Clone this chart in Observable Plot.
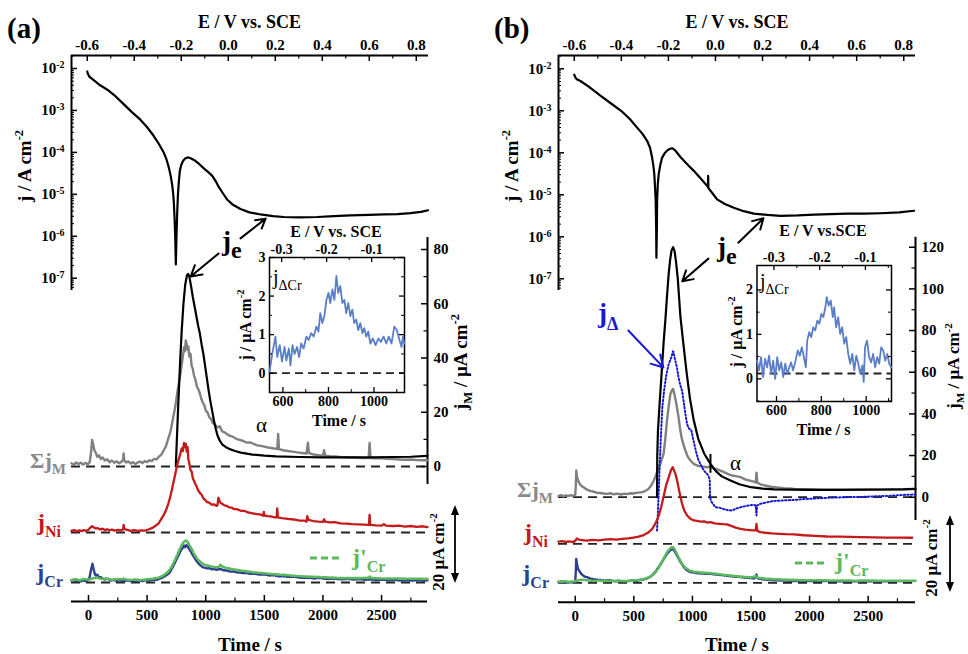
<!DOCTYPE html>
<html><head><meta charset="utf-8">
<script src="https://cdn.jsdelivr.net/npm/d3@7"></script>
<script src="https://cdn.jsdelivr.net/npm/@observablehq/plot@0.6"></script>
<style>
body{margin:0;background:#fff;}
#root{position:relative;width:968px;height:654px;overflow:hidden;background:#fff;}
#root svg{position:absolute;left:0;top:0;}
#root svg text{font-family:"Liberation Serif","Times New Roman",Times,serif !important;}
</style></head><body><div id="root"></div>
<script>
// ---------------- DATA ----------------
// polarization curves: [E (V vs SCE), log10 j (A cm-2)]
const polA = [[-0.600,-2.07],[-0.597,-2.13],[-0.590,-2.20],[-0.570,-2.29],[-0.545,-2.40],[-0.516,-2.50],[-0.480,-2.66],[-0.445,-2.85],[-0.410,-3.04],[-0.374,-3.22],[-0.345,-3.40],[-0.317,-3.61],[-0.295,-3.80],[-0.274,-4.01],[-0.262,-4.18],[-0.253,-4.36],[-0.245,-4.56],[-0.239,-4.76],[-0.235,-4.95],[-0.232,-5.15],[-0.229,-5.50],[-0.226,-5.95],[-0.224,-6.40],[-0.223,-6.67],[-0.222,-6.40],[-0.220,-5.95],[-0.217,-5.40],[-0.214,-5.00],[-0.210,-4.68],[-0.206,-4.44],[-0.200,-4.30],[-0.192,-4.20],[-0.182,-4.14],[-0.172,-4.12],[-0.160,-4.14],[-0.146,-4.18],[-0.125,-4.27],[-0.104,-4.38],[-0.085,-4.47],[-0.068,-4.56],[-0.053,-4.69],[-0.040,-4.83],[-0.022,-4.98],[-0.004,-5.13],[0.020,-5.25],[0.052,-5.35],[0.090,-5.43],[0.137,-5.48],[0.190,-5.52],[0.236,-5.54],[0.300,-5.55],[0.378,-5.54],[0.450,-5.52],[0.520,-5.50],[0.600,-5.49],[0.662,-5.48],[0.720,-5.47],[0.775,-5.45],[0.820,-5.42],[0.850,-5.38]];
const polB = [[-0.600,-2.14],[-0.596,-2.20],[-0.589,-2.25],[-0.574,-2.29],[-0.540,-2.42],[-0.489,-2.64],[-0.445,-2.82],[-0.401,-3.00],[-0.365,-3.19],[-0.333,-3.40],[-0.310,-3.55],[-0.290,-3.72],[-0.278,-3.88],[-0.269,-4.12],[-0.264,-4.30],[-0.260,-4.50],[-0.257,-4.80],[-0.254,-5.14],[-0.252,-5.80],[-0.251,-6.50],[-0.249,-5.80],[-0.248,-5.14],[-0.245,-4.75],[-0.241,-4.50],[-0.234,-4.28],[-0.227,-4.12],[-0.216,-4.01],[-0.206,-3.95],[-0.195,-3.91],[-0.184,-3.89],[-0.170,-3.95],[-0.149,-4.10],[-0.120,-4.27],[-0.092,-4.43],[-0.060,-4.63],[-0.034,-4.80],[-0.032,-4.81],[-0.031,-4.55],[-0.030,-4.84],[-0.012,-4.97],[0.007,-5.11],[0.040,-5.22],[0.078,-5.31],[0.120,-5.39],[0.163,-5.45],[0.220,-5.48],[0.277,-5.50],[0.350,-5.49],[0.420,-5.47],[0.489,-5.46],[0.560,-5.45],[0.630,-5.45],[0.702,-5.44],[0.780,-5.42],[0.844,-5.38]];

// time traces: [t (s), j (µA cm-2)]
const sumA = [[-145,1.2],[-125,0.6],[-105,1.5],[-85,0.9],[-65,1.4],[-45,0.7],[-25,1.3],[-5,0.8],[10,1.6],[20,4.5],[31,9.8],[40,8.2],[50,6.0],[60,5.2],[75,3.6],[90,4.1],[105,2.8],[120,3.3],[140,2.2],[160,2.7],[180,1.6],[200,2.2],[220,1.4],[240,1.9],[260,1.2],[280,1.7],[295,2.4],[300,4.8],[305,2.2],[320,1.5],[340,1.9],[360,1.1],[380,1.6],[400,0.9],[420,1.5],[440,1.8],[460,1.3],[480,2.0],[500,1.6],[520,2.3],[540,2.0],[560,2.8],[580,2.6],[600,3.6],[620,4.3],[640,5.8],[660,7.4],[680,10.2],[700,13.0],[720,17.5],[740,22.0],[760,28.0],[780,33.0],[795,37.5],[805,40.5],[815,44.0],[822,42.5],[830,46.5],[838,45.0],[845,43.0],[852,44.2],[860,40.5],[870,41.6],[880,37.0],[890,36.0],[900,33.5],[912,32.0],[925,29.5],[937,28.5],[950,27.0],[962,25.0],[975,23.6],[990,22.4],[1000,20.6],[1015,20.0],[1030,18.2],[1045,17.6],[1060,16.0],[1080,15.4],[1100,14.4],[1120,14.8],[1140,13.0],[1160,12.6],[1180,12.0],[1200,11.4],[1230,11.0],[1260,10.2],[1290,9.8],[1320,9.4],[1350,8.8],[1380,8.9],[1410,8.3],[1440,7.8],[1470,7.6],[1500,7.3],[1530,7.0],[1560,6.8],[1590,6.6],[1610,6.4],[1618,12.0],[1625,6.4],[1660,6.0],[1700,5.7],[1740,5.5],[1780,5.2],[1820,5.0],[1860,4.8],[1872,8.8],[1880,5.0],[1920,4.4],[1960,4.2],[2000,4.0],[2010,6.0],[2020,4.0],[2060,3.8],[2100,3.7],[2150,3.5],[2200,3.4],[2250,3.3],[2300,3.2],[2350,3.1],[2390,3.1],[2398,8.7],[2406,3.1],[2450,3.0],[2500,3.0],[2550,2.8],[2600,2.7],[2650,2.6],[2700,2.5],[2750,2.6],[2800,2.4],[2850,2.3],[2892,2.3]];
const jeA = [[745,0],[752,8],[765,22],[780,37],[795,50],[810,60],[825,67],[840,70.5],[850,71],[860,70],[875,66.5],[890,62.5],[905,59],[920,55.5],[935,52],[950,49],[965,45],[980,41.5],[995,37],[1010,32.5],[1025,28],[1040,24],[1055,20.5],[1070,17],[1085,14],[1100,11.5],[1120,9.5],[1140,8.2],[1170,7.2],[1200,6.5],[1250,5.7],[1300,5.1],[1400,4.4],[1500,4.0],[1600,3.7],[1800,3.5],[2000,3.4],[2200,3.4],[2400,3.4],[2600,3.5],[2750,3.6],[2892,3.9]];
const niA = [[-145,0.6],[-120,0.9],[-100,0.4],[-80,0.8],[-60,0.5],[-40,0.9],[-20,0.6],[0,1.0],[15,1.8],[31,2.3],[45,1.9],[60,1.5],[80,1.6],[100,1.1],[120,1.4],[140,0.9],[160,1.2],[180,0.8],[200,1.1],[220,0.7],[250,1.0],[280,0.8],[295,1.2],[300,2.8],[306,1.2],[330,1.0],[360,0.6],[390,0.9],[420,0.6],[450,0.8],[480,0.7],[510,1.1],[540,1.6],[570,2.4],[600,3.5],[620,4.9],[640,6.3],[660,8.1],[680,10.5],[700,13.5],[720,17.5],[740,21.5],[760,25.5],[780,28.5],[795,31.0],[805,30.0],[815,33.0],[822,31.5],[830,32.7],[838,29.8],[845,31.5],[852,27.0],[860,25.5],[870,23.0],[880,22.5],[890,20.0],[899,19.2],[910,18.0],[920,17.2],[935,15.6],[950,14.6],[965,13.9],[980,12.6],[995,12.0],[1012,11.2],[1030,11.0],[1050,10.3],[1070,10.4],[1090,9.8],[1100,10.0],[1108,12.8],[1115,12.0],[1125,11.0],[1140,10.6],[1160,10.0],[1180,9.8],[1200,9.3],[1220,9.2],[1240,8.7],[1270,8.5],[1300,8.0],[1330,8.0],[1360,7.4],[1382,7.2],[1410,7.0],[1440,6.8],[1470,6.6],[1490,6.2],[1496,7.6],[1502,6.2],[1530,6.0],[1560,5.9],[1590,5.6],[1605,5.6],[1610,8.9],[1616,5.6],[1650,5.3],[1700,5.0],[1750,4.8],[1800,4.4],[1840,4.4],[1860,4.0],[1866,6.0],[1875,4.7],[1920,4.2],[1960,4.0],[2000,3.9],[2010,4.9],[2020,4.0],[2060,3.7],[2100,3.8],[2150,3.4],[2200,3.3],[2250,3.1],[2300,3.0],[2350,2.9],[2392,2.8],[2398,6.5],[2404,2.8],[2450,2.6],[2500,2.5],[2520,3.1],[2540,2.5],[2600,2.4],[2650,2.5],[2700,2.2],[2750,2.4],[2800,2.1],[2850,2.3],[2892,2.0]];
const crA = [[-145,0.7],[-125,1.0],[-105,0.5],[-85,0.9],[-65,0.4],[-45,0.8],[-25,0.5],[-5,0.9],[10,2.0],[22,4.8],[34,6.9],[44,4.8],[55,3.0],[62,2.6],[75,2.9],[90,1.8],[105,2.0],[119,1.4],[140,1.1],[165,1.4],[190,0.7],[215,1.0],[240,0.5],[265,0.9],[290,0.6],[300,1.4],[310,0.6],[340,0.8],[370,0.4],[403,0.6],[430,0.9],[460,0.5],[490,0.9],[520,0.7],[550,1.1],[575,0.9],[602,1.3],[630,1.8],[655,2.4],[675,3.0],[688,3.4],[705,4.6],[720,5.8],[740,7.6],[760,9.3],[774,10.6],[790,12.0],[805,12.8],[815,13.6],[825,13.0],[835,13.8],[845,13.4],[855,12.6],[870,11.6],[885,10.4],[902,9.3],[920,8.0],[940,6.9],[955,6.3],[973,5.7],[990,5.5],[1010,5.2],[1030,5.3],[1050,4.9],[1070,5.0],[1090,4.7],[1110,4.9],[1129,5.0],[1150,4.5],[1180,4.4],[1210,4.0],[1240,4.1],[1257,3.8],[1290,3.7],[1320,3.5],[1350,3.6],[1380,3.2],[1420,3.2],[1460,2.9],[1500,3.0],[1541,2.6],[1580,2.7],[1620,2.3],[1660,2.4],[1700,2.1],[1750,2.2],[1800,1.8],[1825,1.7],[1870,1.8],[1920,1.5],[1970,1.7],[2020,1.4],[2070,1.5],[2110,1.4],[2160,1.2],[2210,1.4],[2260,1.1],[2310,1.3],[2360,1.0],[2410,1.2],[2460,0.9],[2510,1.1],[2560,0.8],[2610,1.0],[2660,0.7],[2710,0.9],[2760,0.7],[2810,0.9],[2860,0.6],[2892,0.8]];
const crpA = [[-145,0.9],[-110,1.2],[-75,0.8],[-40,1.3],[0,1.0],[34,1.5],[70,1.8],[110,1.3],[150,1.5],[200,1.0],[250,1.2],[300,1.3],[350,0.9],[400,1.1],[450,0.9],[500,1.2],[550,1.4],[600,1.8],[640,2.6],[680,4.0],[710,5.8],[740,8.5],[770,11.5],[795,13.8],[815,15.0],[830,15.5],[845,15.0],[860,13.9],[880,12.3],[900,10.6],[920,9.2],[945,7.9],[973,6.9],[1000,6.4],[1040,6.0],[1080,5.6],[1110,5.7],[1125,6.5],[1140,5.9],[1180,5.3],[1220,5.0],[1260,4.7],[1300,4.4],[1350,4.1],[1400,3.8],[1450,3.6],[1500,3.4],[1541,3.2],[1600,3.0],[1660,2.8],[1720,2.6],[1780,2.4],[1840,2.2],[1900,2.1],[1960,2.0],[2020,1.9],[2110,1.7],[2200,1.6],[2300,1.6],[2390,1.7],[2400,2.2],[2410,1.7],[2500,1.5],[2600,1.5],[2700,1.4],[2800,1.4],[2892,1.3]];
const dCrA = [[541,0.03],[553,0.5],[567,0.95],[575,0.42],[586,0.73],[596,0.3],[607,0.68],[615,0.33],[626,0.64],[633,0.2],[642,0.73],[651,0.5],[662,0.68],[671,0.42],[680,0.77],[691,0.64],[703,0.95],[713,0.86],[724,1.04],[735,0.95],[747,1.21],[756,1.08],[764,1.56],[773,1.3],[782,1.48],[791,1.9],[800,2.08],[808,1.82],[817,2.17],[826,1.9],[835,2.52],[843,2.08],[852,2.26],[861,1.82],[870,1.9],[878,1.56],[887,1.82],[896,1.48],[905,1.65],[913,1.3],[922,1.39],[931,1.12],[940,1.3],[949,1.04],[957,1.17],[966,0.95],[975,1.08],[984,0.77],[995,0.9],[1007,0.73],[1019,0.9],[1030,0.81],[1042,0.95],[1054,0.77],[1065,0.95],[1077,0.77],[1089,1.21],[1100,1.12],[1112,0.86],[1121,0.68],[1127,0.95],[1133,0.77]];

const sumB = [[-143,0.6],[-120,1.0],[-100,0.4],[-80,0.9],[-60,0.5],[-40,1.0],[-20,0.6],[0,1.2],[5,6.0],[9,12.8],[14,10.0],[22,8.4],[32,7.0],[45,5.8],[58,5.2],[71,4.8],[90,4.0],[110,3.4],[135,2.9],[160,2.6],[190,2.1],[214,2.0],[240,1.8],[270,1.6],[300,1.9],[330,1.4],[360,1.7],[390,1.3],[420,1.7],[442,1.5],[470,1.9],[500,1.8],[530,2.2],[560,2.3],[584,2.6],[605,3.2],[625,4.0],[640,5.0],[655,6.4],[670,8.0],[685,10.0],[698,12.0],[715,14.5],[735,17.5],[755,21.0],[770,29.0],[783,36.8],[798,44.0],[812,49.6],[822,51.0],[835,52.0],[848,49.0],[863,44.8],[880,39.0],[897,32.0],[910,28.0],[925,25.0],[940,22.4],[960,19.5],[985,17.5],[1011,16.0],[1040,15.2],[1070,14.8],[1100,14.6],[1125,14.4],[1150,14.6],[1180,13.8],[1210,13.4],[1239,12.8],[1270,12.0],[1300,11.2],[1340,10.4],[1380,10.0],[1410,9.6],[1450,8.6],[1490,8.0],[1530,7.4],[1540,7.0],[1547,11.8],[1554,7.0],[1580,6.2],[1620,5.6],[1670,5.0],[1720,4.7],[1780,4.3],[1830,4.2],[1868,4.0],[1920,3.9],[1980,3.8],[2050,3.7],[2120,3.6],[2200,3.6],[2280,3.5],[2360,3.5],[2438,3.5],[2520,3.6],[2600,3.6],[2700,3.8],[2800,3.9],[2904,4.0]];
const jeB = [[698,0],[700,20],[706,32],[720,45],[740,62],[755,75],[769,85],[785,98],[797,107],[810,114],[822,118.5],[835,120],[848,118],[860,113],[875,105],[897,87],[920,75],[950,60],[980,47],[1011,37],[1050,28],[1100,21],[1154,16],[1200,12.5],[1250,10],[1325,8],[1400,6.2],[1500,4.8],[1600,4.1],[1700,3.8],[1850,3.6],[2000,3.5],[2200,3.5],[2400,3.6],[2600,3.7],[2800,3.8],[2904,4.0]];
const deltaB = [[698,-16],[705,-8],[712,2],[720,14],[730,28],[743,43],[760,52],[778,59],[798,64],[812,66],[825,68],[833,70],[840,69.6],[848,67],[858,64.5],[869,62],[880,58],[895,54],[912,51],[925,46],[940,40],[955,35],[970,33],[991,32],[1010,27],[1030,22],[1050,18],[1068,16],[1090,13.5],[1110,12],[1125,11.2],[1140,10],[1148,8],[1150,0],[1160,-2],[1180,-3.6],[1197,-4.8],[1230,-5],[1260,-5.6],[1300,-6.2],[1339,-6.4],[1370,-5.5],[1400,-5.0],[1440,-4.4],[1481,-4.0],[1520,-3.6],[1540,-4.0],[1547,-8.8],[1552,-4.0],[1580,-3.2],[1638,-2.4],[1700,-1.8],[1760,-1.6],[1868,-1.3],[1950,-0.9],[2050,-0.6],[2153,-0.3],[2250,-0.1],[2350,0.1],[2438,0.1],[2550,0.4],[2650,0.6],[2723,0.8],[2800,1.1],[2904,1.3]];
const niB = [[-143,1.0],[-110,1.3],[-80,0.9],[-50,1.2],[-20,0.8],[0,1.4],[14,2.6],[30,2.0],[60,1.8],[100,1.5],[150,1.9],[200,1.6],[250,2.0],[299,2.2],[350,2.0],[400,2.4],[450,2.6],[498,3.0],[540,3.4],[584,4.2],[620,5.3],[655,7.0],[685,9.8],[712,13.4],[735,18.0],[755,23.0],[775,28.0],[798,32.0],[815,35.0],[832,36.8],[845,35.0],[858,33.0],[869,30.4],[885,26.0],[900,22.0],[912,19.2],[930,16.0],[955,13.6],[980,12.2],[1011,11.2],[1040,11.0],[1070,10.6],[1100,10.8],[1130,10.2],[1154,10.4],[1190,9.8],[1230,9.6],[1260,9.4],[1296,9.3],[1330,8.6],[1370,7.8],[1410,7.2],[1450,6.8],[1490,6.6],[1524,6.4],[1540,6.4],[1547,9.6],[1554,6.2],[1581,5.6],[1620,5.3],[1680,5.0],[1740,4.8],[1800,4.6],[1866,4.5],[1950,4.1],[2050,3.8],[2150,3.5],[2250,3.4],[2350,3.3],[2435,3.2],[2550,3.1],[2650,3.0],[2750,3.0],[2876,2.9]];
const crB = [[-143,0.3],[-120,0.6],[-100,0.2],[-80,0.5],[-60,0.1],[-40,0.4],[-20,0.2],[0,0.5],[5,6.0],[8.5,11.5],[14,9.0],[25,6.5],[43,5.0],[60,3.8],[80,3.0],[100,2.7],[130,2.0],[160,1.7],[190,1.5],[214,1.4],[250,1.0],[290,1.2],[330,0.8],[370,1.0],[410,0.7],[442,0.8],[480,1.1],[520,1.0],[550,1.3],[584,1.6],[620,2.3],[650,3.3],[669,4.3],[690,5.8],[715,7.8],[740,9.9],[760,11.8],[783,13.9],[800,15.0],[815,15.8],[832,16.3],[848,15.2],[869,13.0],[890,10.8],[910,9.0],[926,7.5],[950,6.2],[983,5.1],[1010,4.9],[1050,4.6],[1090,4.5],[1120,4.3],[1154,4.3],[1200,4.0],[1250,3.7],[1300,3.4],[1350,3.0],[1410,2.7],[1460,2.4],[1530,2.2],[1547,4.0],[1556,2.2],[1600,1.7],[1638,1.4],[1700,1.2],[1780,1.1],[1850,0.9],[1950,0.9],[2050,0.8],[2150,0.8],[2250,0.7],[2350,0.8],[2450,0.7],[2550,0.8],[2650,0.7],[2750,0.8],[2876,0.8]];
const crpB = [[-143,0.5],[-100,0.7],[-50,0.4],[0,0.8],[30,1.2],[60,1.5],[100,1.2],[150,0.9],[200,1.1],[250,0.8],[300,1.0],[350,0.7],[400,0.9],[450,0.8],[500,1.1],[550,1.4],[600,2.0],[640,2.9],[670,4.2],[700,6.2],[730,9.0],[760,12.2],[785,14.8],[805,16.2],[820,16.9],[832,17.1],[845,16.4],[860,14.8],[880,12.5],[900,10.2],[920,8.4],[945,7.0],[975,5.9],[1010,5.3],[1060,5.0],[1110,4.8],[1154,4.6],[1200,4.3],[1260,3.9],[1320,3.5],[1380,3.1],[1440,2.8],[1500,2.6],[1547,3.2],[1560,2.4],[1620,2.0],[1700,1.7],[1800,1.5],[1900,1.3],[2000,1.2],[2100,1.2],[2200,1.1],[2300,1.1],[2400,1.0],[2500,1.1],[2600,1.0],[2700,1.0],[2800,1.0],[2904,1.0]];
const dCrB = [[513,0.41],[522,0.19],[531,0.49],[540,0.04],[549,0.45],[558,0.26],[567,0.52],[576,0.11],[585,0.41],[594,0.0],[603,0.49],[612,0.19],[621,0.37],[630,0.04],[639,0.34],[648,0.11],[657,0.26],[665,0.37],[674,0.19],[685,0.41],[695,0.64],[704,0.52],[713,0.71],[722,0.49],[731,0.26],[737,0.86],[746,1.05],[755,0.94],[764,1.16],[773,1.09],[782,1.31],[791,1.24],[800,1.46],[809,1.39],[818,1.61],[824,1.84],[833,1.65],[842,1.76],[851,1.39],[857,1.61],[866,1.16],[875,1.39],[884,1.01],[893,1.16],[902,0.79],[911,0.94],[920,0.56],[929,0.34],[938,0.56],[947,0.19],[956,0.52],[965,0.34],[974,0.11],[983,0.30],[989,-0.07],[995,0.71],[1004,0.86],[1013,0.49],[1022,0.37],[1031,0.56],[1040,0.26],[1049,0.49],[1058,0.34],[1067,0.71],[1076,0.64],[1085,0.41],[1094,0.56],[1103,0.34],[1112,0.26]];

// tick values
const eTicks = [-0.6,-0.4,-0.2,0,0.2,0.4,0.6,0.8];
const eMinor = [-0.5,-0.3,-0.1,0.1,0.3,0.5,0.7];
const logTicks = [1e-2,1e-3,1e-4,1e-5,1e-6,1e-7];
const logMinor = [-8,-7,-6,-5,-4,-3,-2].flatMap(n => [2,3,4,5,6,7,8,9].map(m => m*10**n));
const tTicks = [0,500,1000,1500,2000,2500];
const tMinor = [250,750,1250,1750,2250,2750];
const rTicksA = [0,20,40,60,80], rMinorA = [10,30,50,70];
const rTicksB = [0,20,40,60,80,100,120], rMinorB = [10,30,50,70,90,110];
const insTTicks = [600,800,1000], insTMinor = [700,900,1100];
const insETicks = [-0.3,-0.2,-0.1], insEMinor = [-0.25,-0.15,-0.05];
const insYTicksA = [0,1,2,3], insYMinorA = [0.5,1.5,2.5];
const insYTicksB = [0,1,2], insYMinorB = [-0.5,0.5,1.5];

// annotations in data coordinates
const arrowsEA = [{x1:0.052,y1:-6.05,x2:0.159,y2:-5.58},{x1:-0.041,y1:-6.41,x2:-0.160,y2:-6.96}];
const arrowsEB = [{x1:0.097,y1:-6.14,x2:0.204,y2:-5.56},{x1:-0.030,y1:-6.52,x2:-0.141,y2:-7.06}];
const deltaArrowB = [{x1:453,y1:80,x2:752,y2:62.3}];
const alphaA = [{t:1476,v:15.1}], alphaB = [{t:1367,v:16.2}];
const markB = [{t:1154,lo:11.5,hi:20.5}];

// ---------------- RENDER ----------------
const root = document.getElementById("root");
const W = 968, H = 654;
const FONT = '"Liberation Serif","Times New Roman",Times,serif';
const C = {gray:"#808080", red:"#c41a1a", navy:"#2c3f90", green:"#5cb85c", inset:"#5b7ec8", delta:"#1717d4", dash:"#222"};
const DASH = {stroke: C.dash, strokeWidth: 1.8, strokeDasharray: "9,6"};

function layer(box, xOpt, yOpt, marks) {
  const [l, r, t, b] = box;
  const svg = Plot.plot({
    width: W, height: H,
    marginLeft: l, marginRight: W - r, marginTop: t, marginBottom: H - b,
    x: {...xOpt, axis: null}, y: {...yOpt, axis: null},
    style: {background: "transparent", fontFamily: FONT, fontWeight: "bold", overflow: "visible"},
    marks
  });
  svg.style.position = "absolute"; svg.style.left = "0px"; svg.style.top = "0px";
  root.appendChild(svg);
  return svg;
}
const P = d => d[0], V = d => d[1];

function supTicks(svg) {
  const ns = "http://www.w3.org/2000/svg";
  svg.querySelectorAll('g[aria-label="y-axis tick label"] text').forEach(t => {
    const [base, exp] = t.textContent.split("^");
    if (exp === undefined) return;
    t.textContent = "";
    const a = document.createElementNS(ns, "tspan"); a.textContent = base; t.appendChild(a);
    const b = document.createElementNS(ns, "tspan"); b.textContent = exp;
    b.setAttribute("dy", "-0.5em"); b.setAttribute("font-size", "10"); t.appendChild(b);
  });
}

function panel(c) {
  // polarization layer
  {
    const [l, r, t, b] = c.eBox, fw = r - l, fh = b - t;
    const svg = layer(c.eBox, {domain: c.eDomain}, {type: "log", domain: c.logDomain.map(v => 10 ** v)}, [
      Plot.ruleY([10 ** c.logDomain[1]], {strokeWidth: 2}),
      Plot.ruleX([c.eDomain[0]], {strokeWidth: 2}),
      Plot.tickX(eTicks, {x: d => d, insetBottom: fh - 6, strokeWidth: 1.5}),
      Plot.tickX(eMinor, {x: d => d, insetBottom: fh - 3.5, strokeWidth: 1.2}),
      Plot.tickY(logTicks, {y: d => d, insetRight: fw - 6, strokeWidth: 1.5}),
      Plot.tickY(logMinor.filter(v => v > 10 ** c.logDomain[0] && v < 10 ** c.logDomain[1]), {y: d => d, insetRight: fw - 3, strokeWidth: 1}),
      Plot.axisX({anchor: "top", ticks: eTicks, tickSize: 0, tickPadding: 6, tickFormat: d => d.toFixed(1), fontSize: 15, label: null}),
      Plot.axisY({anchor: "left", ticks: logTicks, tickSize: 0, tickPadding: 7, tickFormat: d => "10^" + Math.round(Math.log10(d)), fontSize: 15, label: null}),
      Plot.line(c.pol, {x: P, y: d => 10 ** d[1], strokeWidth: 2.2}),
      Plot.arrow(c.arrowsE, {x1: "x1", y1: d => 10 ** d.y1, x2: "x2", y2: d => 10 ** d.y2, strokeWidth: 2, headLength: 10})
    ]);
    supTicks(svg);
  }
  const [l, r, t, b] = c.tBox, fw = r - l;
  const yd = base => [-(b - base) / c.k, (base - t) / c.k];
  const sumDom = yd(c.base.sum);
  const rExt = c.rExtent.map(px => (c.base.sum - px) / c.k);
  // ΣjM / je layer with right axis
  layer(c.tBox, {domain: c.tDomain}, {domain: sumDom}, [
    Plot.ruleY([0], DASH),
    Plot.ruleX([c.tDomain[1]], {y1: rExt[1], y2: rExt[0], strokeWidth: 2}),
    Plot.tickY(c.rTicks, {y: d => d, insetLeft: fw - 6, strokeWidth: 1.5}),
    Plot.tickY(c.rMinor, {y: d => d, insetLeft: fw - 3.5, strokeWidth: 1.2}),
    Plot.axisY({anchor: "right", ticks: c.rTicks, tickSize: 0, tickPadding: 6, tickFormat: d => String(d), fontSize: 15, label: null}),
    Plot.line(c.sum, {x: P, y: V, stroke: C.gray, strokeWidth: 2.4}),
    Plot.line(c.je, {x: P, y: V, strokeWidth: 2.2}),
    ...(c.mark ? [Plot.ruleX(c.mark, {x: "t", y1: "lo", y2: "hi", strokeWidth: 2})] : []),
    ...(c.delta ? [
      Plot.line(c.delta, {x: P, y: V, stroke: C.delta, strokeWidth: 2, strokeDasharray: "1.4,2.2"}),
      Plot.arrow(c.deltaArrow, {x1: "x1", y1: "y1", x2: "x2", y2: "y2", stroke: C.delta, strokeWidth: 2, headLength: 10})
    ] : []),
    Plot.text(c.alpha, {x: "t", y: "v", text: () => "α", fontSize: 21, fontWeight: "normal"})
  ]);
  // jNi layer
  layer(c.tBox, {domain: c.tDomain}, {domain: yd(c.base.ni)}, [
    Plot.ruleY([0], DASH),
    Plot.line(c.ni, {x: P, y: V, stroke: C.red, strokeWidth: 2.3})
  ]);
  // jCr layer with bottom axis
  const crDom = yd(c.base.cr), fh = b - t;
  layer(c.tBox, {domain: c.tDomain}, {domain: crDom}, [
    Plot.ruleY([0], DASH),
    Plot.ruleY([crDom[0]], {strokeWidth: 2}),
    Plot.tickX(tTicks, {x: d => d, insetTop: fh - 6, strokeWidth: 1.5}),
    Plot.tickX(tMinor.filter(v => v < c.tDomain[1]), {x: d => d, insetTop: fh - 3.5, strokeWidth: 1.2}),
    Plot.axisX({anchor: "bottom", ticks: tTicks, tickSize: 0, tickPadding: 8, tickFormat: d => String(d), fontSize: 15, label: null}),
    Plot.line(c.cr, {x: P, y: V, stroke: C.navy, strokeWidth: 2.4}),
    Plot.line(c.crp, {x: P, y: V, stroke: C.green, strokeWidth: 2.6, strokeDasharray: "6,2"})
  ]);
  // inset
  const I = c.inset;
  const [il, ir, it, ib] = I.box, ifw = ir - il, ifh = ib - it;
  layer(I.box, {domain: I.tDomain}, {domain: I.yDomain}, [
    Plot.frame({strokeWidth: 1.5}),
    Plot.ruleY([I.zero], {...DASH, strokeDasharray: "8,5"}),
    Plot.line(I.data, {x: P, y: V, stroke: C.inset, strokeWidth: 1.8}),
    Plot.tickY(I.yTicks, {y: d => d, insetRight: ifw - 5, strokeWidth: 1.3}),
    Plot.tickY(I.yTicks, {y: d => d, insetLeft: ifw - 5, strokeWidth: 1.3}),
    Plot.tickY(I.yMinor, {y: d => d, insetRight: ifw - 3, strokeWidth: 1}),
    Plot.tickY(I.yMinor, {y: d => d, insetLeft: ifw - 3, strokeWidth: 1}),
    Plot.tickX(insTTicks, {x: d => d, insetTop: ifh - 5, strokeWidth: 1.3}),
    Plot.tickX(insTMinor.filter(v => v < I.tDomain[1]), {x: d => d, insetTop: ifh - 3, strokeWidth: 1}),
    Plot.axisY({anchor: "left", ticks: I.yTicks, tickSize: 0, tickPadding: 4, tickFormat: d => String(d), fontSize: 14, label: null}),
    Plot.axisX({anchor: "bottom", ticks: insTTicks, tickSize: 0, tickPadding: 4, tickFormat: d => String(d), fontSize: 14, label: null})
  ]);
  layer(I.box, {domain: I.eDomain}, {domain: [0, 1]}, [
    Plot.tickX(insETicks, {x: d => d, insetBottom: ifh - 5, strokeWidth: 1.3}),
    Plot.tickX(insEMinor, {x: d => d, insetBottom: ifh - 3, strokeWidth: 1}),
    Plot.axisX({anchor: "top", ticks: insETicks, tickSize: 0, tickPadding: 4, tickFormat: d => d.toFixed(1), fontSize: 14, label: null})
  ]);
}

panel({
  eBox: [71, 428, 55, 290], eDomain: [-0.667, 0.852], logDomain: [-7.293, -1.69], pol: polA, arrowsE: arrowsEA,
  tBox: [71, 427, 55, 601], tDomain: [-145, 2892], k: 2.7125, base: {sum: 466, ni: 532, cr: 582}, rExtent: [237, 484],
  rTicks: rTicksA, rMinor: rMinorA, sum: sumA, je: jeA, ni: niA, cr: crA, crp: crpA, alpha: alphaA,
  inset: {box: [269, 404, 257, 392], tDomain: [541, 1134], yDomain: [-0.5, 3.0], eDomain: [-0.327, -0.027], zero: 0, data: dCrA, yTicks: insYTicksA, yMinor: insYMinorA}
});
panel({
  eBox: [558, 915, 55, 290], eDomain: [-0.667, 0.85], logDomain: [-7.279, -1.683], pol: polB, arrowsE: arrowsEB,
  tBox: [558, 915, 55, 601.7], tDomain: [-143, 2904], k: 2.083, base: {sum: 496.7, ni: 543.3, cr: 582.3}, rExtent: [236.7, 520],
  rTicks: rTicksB, rMinor: rMinorB, sum: sumB, je: jeB, ni: niB, cr: crB, crp: crpB, alpha: alphaB,
  delta: deltaB, deltaArrow: deltaArrowB, mark: markB,
  inset: {box: [756.5, 891, 265, 401], tDomain: [513, 1113], yDomain: [-0.51, 2.55], eDomain: [-0.337, -0.043], zero: 0.12, data: dCrB, yTicks: insYTicksB, yMinor: insYMinorB}
});

// ---------------- TEXT OVERLAY ----------------
const ov = d3.select(root).append("svg").attr("width", W).attr("height", H)
  .style("position", "absolute").style("left", "0px").style("top", "0px")
  .attr("font-family", FONT);
function rich(x, y, parts, {anchor = "start", rotate = 0, fill = "#000", weight = "bold", size = 18} = {}) {
  const t = ov.append("text").attr("x", x).attr("y", y).attr("text-anchor", anchor)
    .attr("fill", fill).attr("font-weight", weight).attr("font-size", size);
  if (rotate) t.attr("transform", `rotate(${rotate},${x},${y})`);
  let shift = 0;
  for (const p of parts) {
    const [txt, kind = "n", sz] = typeof p === "string" ? [p] : p;
    const target = kind === "sub" ? size * 0.28 : kind === "sup" ? -size * 0.42 : 0;
    t.append("tspan").text(txt).attr("dy", target - shift).attr("font-size", sz || (kind === "n" ? size : size * 0.66));
    shift = target;
  }
  return t;
}
function dblArrow(x, y1, y2) {
  ov.append("line").attr("x1", x).attr("x2", x).attr("y1", y1 + 6).attr("y2", y2 - 6).attr("stroke", "#000").attr("stroke-width", 1.8);
  ov.append("path").attr("d", `M${x - 4},${y1 + 10}L${x},${y1}L${x + 4},${y1 + 10}Z`);
  ov.append("path").attr("d", `M${x - 4},${y2 - 10}L${x},${y2}L${x + 4},${y2 - 10}Z`);
}
function legendDash(x1, x2, y) {
  ov.append("line").attr("x1", x1).attr("x2", x2).attr("y1", y).attr("y2", y)
    .attr("stroke", C.green).attr("stroke-width", 3).attr("stroke-dasharray", "7,4");
}

// panel (a)
rich(7, 38, ["(a)"], {size: 29});
rich(249.5, 28, ["E / V vs. SCE"], {anchor: "middle", size: 18});
rich(31, 166, ["j / A cm", ["-2", "sup"]], {anchor: "middle", rotate: -90, size: 19});
rich(467, 362, ["j", ["M", "sub"], " / µA cm", ["-2", "sup"]], {anchor: "middle", rotate: -90, size: 19});
rich(250, 651, ["Time / s"], {anchor: "middle", size: 19});
rich(444, 552, ["20 µA cm", ["-2", "sup"]], {anchor: "middle", rotate: -90, size: 17});
dblArrow(455, 505, 583);
rich(66, 468, ["Σj", ["M", "sub", 15]], {anchor: "end", fill: "#8a8a8a", size: 22});
rich(61, 530, ["j", ["Ni", "sub", 16]], {anchor: "end", fill: C.red, size: 24});
rich(63, 580, ["j", ["Cr", "sub", 16]], {anchor: "end", fill: C.navy, size: 24});
legendDash(310, 343, 558);
rich(352, 565, ["j'", ["Cr", "sub", 16]], {fill: C.green, size: 24});
rich(222, 250, ["j", ["e", "sub", 24]], {size: 27});
rich(336, 237, ["E / V vs. SCE"], {anchor: "middle", size: 16});
rich(339, 426, ["Time / s"], {anchor: "middle", size: 16});
rich(251, 325, ["j / µA cm", ["-2", "sup"]], {anchor: "middle", rotate: -90, size: 16});
rich(273, 284, ["j", ["ΔCr", "sub", 14]], {size: 20, weight: "normal"});

// panel (b)
rich(494, 38, ["(b)"], {size: 29});
rich(737, 28, ["E / V vs. SCE"], {anchor: "middle", size: 18});
rich(518, 166, ["j / A cm", ["-2", "sup"]], {anchor: "middle", rotate: -90, size: 19});
rich(959, 366, ["j", ["M", "sub"], " / µA cm", ["-2", "sup"]], {anchor: "middle", rotate: -90, size: 17});
rich(737, 651, ["Time / s"], {anchor: "middle", size: 19});
rich(937, 558, ["20 µA cm", ["-2", "sup"]], {anchor: "middle", rotate: -90, size: 17});
dblArrow(950, 515, 592);
rich(553, 497, ["Σj", ["M", "sub", 15]], {anchor: "end", fill: "#8a8a8a", size: 22});
rich(548, 540, ["j", ["Ni", "sub", 16]], {anchor: "end", fill: C.red, size: 24});
rich(549, 581, ["j", ["Cr", "sub", 16]], {anchor: "end", fill: C.navy, size: 24});
legendDash(795, 827, 563);
rich(835, 569, ["j'", ["Cr", "sub", 16]], {fill: C.green, size: 24});
rich(717, 256, ["j", ["e", "sub", 24]], {size: 27});
rich(598, 322, ["j", ["Δ", "sub", 18]], {fill: C.delta, size: 27});
rich(823, 236, ["E / V vs.SCE"], {anchor: "middle", size: 16});
rich(823.5, 435, ["Time / s"], {anchor: "middle", size: 16});
rich(742, 332, ["j / µA cm", ["-2", "sup"]], {anchor: "middle", rotate: -90, size: 16});
rich(760, 288, ["j", ["ΔCr", "sub", 14]], {size: 20, weight: "normal"});
</script></body></html>
